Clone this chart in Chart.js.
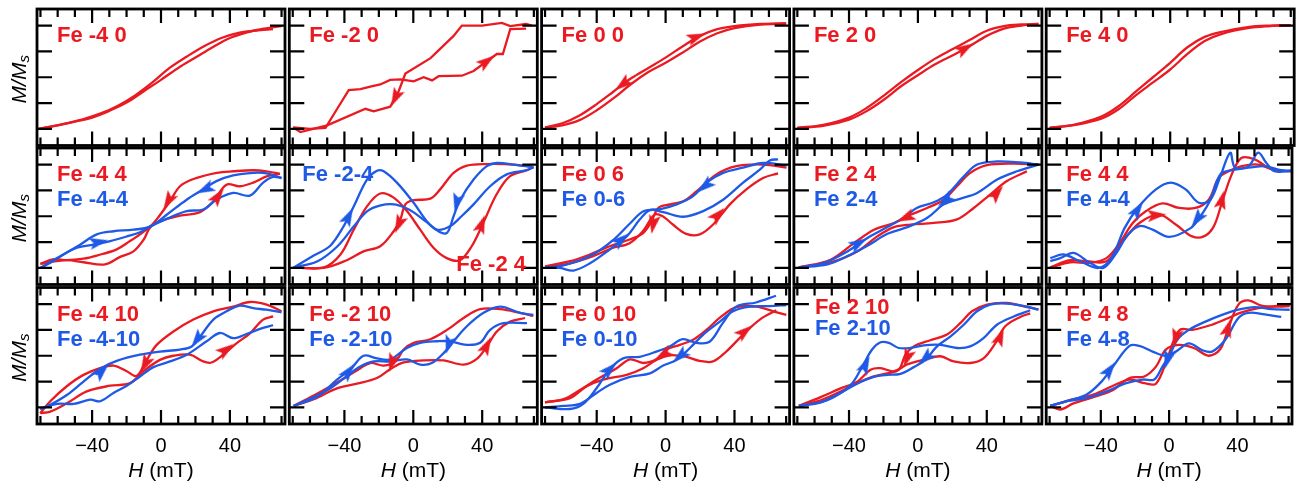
<!DOCTYPE html>
<html>
<head>
<meta charset="utf-8">
<script src="https://cdn.jsdelivr.net/npm/chart.js@4/dist/chart.umd.min.js"></script>
<style>
  html, body { margin: 0; padding: 0; background: #fff; }
  #wrap { position: relative; width: 1299px; height: 485px; overflow: hidden; }
  #wrap canvas { position: absolute; left: 0; top: 0; }
</style>
</head>
<body>
<div id="wrap"></div>
<script>
// ---- data: each branch is a list of [H (mT), M/Ms] ----
// row 1
const r_m40u = [[-71,-1.0],[-60,-0.93],[-50,-0.86],[-40,-0.78],[-30,-0.65],[-20,-0.49],[-10,-0.27],[0,-0.05],[10,0.18],[20,0.38],[30,0.58],[40,0.76],[50,0.87],[60,0.94],[70,0.99]];
const r_m40d = [[65,0.93],[55,0.9],[45,0.86],[35,0.76],[25,0.6],[15,0.4],[5,0.18],[-5,-0.1],[-15,-0.35],[-25,-0.55],[-35,-0.7],[-45,-0.81],[-55,-0.89],[-65,-0.96],[-71,-1.0]];
const r_m20u = [[-69.8,-0.97],[-60,-1.0],[-51,-0.98],[-44,-0.6],[-37.5,-0.25],[-30.7,-0.23],[-25,-0.18],[-19.2,-0.14],[-13.4,-0.05],[-7.5,-0.04],[0.2,-0.08],[6,0],[10.9,-0.06],[14.7,0.02],[28.2,0.03],[35,0.12],[42.7,0.31],[48.5,0.45],[52,0.45],[56.3,0.93],[65.5,0.94]];
const r_m20d = [[69,1.0],[65.5,1.03],[56.3,0.99],[51.4,1.05],[40,1.0],[28.2,1.0],[23.4,0.8],[10,0.37],[-4.6,0.07],[-8.5,-0.27],[-13.4,-0.57],[-23,-0.66],[-27.8,-0.61],[-50,-0.93],[-65.5,-1.06],[-69.8,-0.97]];
const r_00u = [[-70,-0.97],[-60,-0.93],[-50,-0.83],[-40,-0.64],[-30,-0.4],[-20,-0.13],[-10,0.1],[0,0.28],[10,0.48],[20,0.69],[30,0.85],[40,0.95],[55,1.02],[70,1.04]];
const r_00d = [[70,1.04],[55,1.03],[40,0.99],[30,0.93],[20,0.8],[10,0.6],[0,0.38],[-10,0.18],[-20,-0.02],[-30,-0.27],[-40,-0.52],[-50,-0.74],[-60,-0.89],[-70,-0.97]];
const r_20u = [[-70,-0.98],[-55,-0.94],[-40,-0.82],[-30,-0.66],[-20,-0.44],[-10,-0.18],[0,0.04],[10,0.25],[20,0.42],[30,0.6],[40,0.8],[50,0.94],[60,1.0],[70,1.03]];
const r_20d = [[70,1.03],[60,1.02],[50,0.99],[40,0.9],[30,0.72],[20,0.54],[10,0.36],[0,0.14],[-10,-0.1],[-20,-0.36],[-30,-0.6],[-40,-0.78],[-55,-0.92],[-70,-0.98]];
const r_40u = [[-70,-0.98],[-55,-0.92],[-40,-0.8],[-30,-0.62],[-20,-0.35],[-10,-0.1],[0,0.15],[10,0.45],[20,0.7],[30,0.84],[45,0.95],[58,0.99],[70,1.01]];
const r_40d = [[70,1.01],[58,1.0],[45,0.97],[30,0.88],[20,0.78],[10,0.58],[0,0.28],[-10,0.0],[-20,-0.28],[-30,-0.56],[-40,-0.76],[-55,-0.91],[-70,-0.98]];
// row 2
const r_m44u = [[-70,-0.92],[-55,-0.85],[-45,-0.89],[-32.5,-0.93],[-24,-0.79],[-16,-0.68],[-10,-0.45],[-6.4,-0.22],[-0.6,-0.1],[11,0.01],[22.6,0.08],[30.4,0.29],[38,0.61],[45.8,0.58],[53.5,0.65],[61.3,0.77],[69,0.82]];
const r_m44d = [[69,0.82],[61.3,0.87],[53.5,0.89],[42,0.87],[32.3,0.84],[18.8,0.72],[11,0.58],[5.2,0.29],[-2.5,-0.06],[-6.4,-0.2],[-12.2,-0.35],[-18,-0.48],[-25.7,-0.64],[-37.3,-0.76],[-45,-0.82],[-54.7,-0.85],[-62.4,-0.83],[-70,-0.92]];
const b_m44u = [[-70,-1.0],[-60.4,-0.81],[-48.8,-0.61],[-39.2,-0.55],[-29.5,-0.48],[-19.8,-0.39],[-12.2,-0.31],[-6.4,-0.2],[3.3,-0.05],[14.9,0.1],[24.5,0.13],[32.2,0.32],[41.9,0.45],[51.6,0.4],[59.3,0.65],[65,0.76],[70,0.74]];
const b_m44d = [[70,0.74],[61.3,0.83],[53.5,0.84],[41.9,0.79],[32.2,0.68],[24.5,0.52],[14.9,0.32],[3.3,0.03],[-6.4,-0.2],[-16,-0.26],[-27.5,-0.29],[-37.3,-0.35],[-47,-0.55],[-56.6,-0.74],[-64.3,-0.9],[-70,-1.0]];
const r_m24u = [[-69.4,-0.99],[-52,-0.99],[-42.3,-0.74],[-34.6,-0.26],[-26.9,0.19],[-19.2,0.44],[-11.4,0.36],[-3.7,0.1],[4,-0.26],[11.7,-0.61],[19.4,-0.81],[27.1,-0.85],[33.9,-0.58],[40.6,-0.13],[48.3,0.42],[56,0.77],[65.9,0.89],[69.7,0.95]];
const r_m24d = [[69.7,0.95],[58.1,1.0],[42.7,1.01],[31.1,0.98],[23.4,0.84],[15.6,0.52],[9.9,0.34],[0.2,0.31],[-4.6,0.23],[-7.5,-0.06],[-11.4,-0.29],[-19.2,-0.58],[-28.9,-0.68],[-38.6,-0.85],[-52,-1.0],[-69.4,-0.99]];
const b_m24u = [[-69.4,-0.99],[-57.8,-0.76],[-48.2,-0.57],[-40.4,-0.19],[-34.6,0.19],[-26.9,0.71],[-21.1,0.88],[-17.2,0.87],[-9.5,0.65],[0.2,0.26],[7.9,-0.1],[13.7,-0.26],[21,-0.2],[28,0.0],[35,0.23],[44.6,0.58],[54.3,0.81],[65.9,0.89],[69.7,0.95]];
const b_m24d = [[69.7,0.95],[58.1,1.0],[48.5,1.03],[42.7,0.97],[35,0.71],[27.3,0.32],[23.4,0.0],[19.6,-0.32],[15,-0.3],[8,-0.12],[0,0.08],[-5,0.17],[-11.2,0.23],[-19,0.21],[-26.7,0.1],[-34.4,-0.19],[-44,-0.58],[-55.6,-0.87],[-69.4,-0.99]];
const r_06u = [[-70,-0.99],[-55.5,-0.91],[-42.1,-0.77],[-30.5,-0.61],[-20.9,-0.52],[-13.2,-0.29],[-6.4,0.03],[-1.7,0.0],[4.2,-0.16],[12,-0.34],[19.8,-0.35],[27.6,-0.16],[37.3,0.23],[46.9,0.52],[56.6,0.74],[65.3,0.83]];
const r_06d = [[70.2,0.94],[56.6,1.0],[41.1,0.97],[29.5,0.81],[17.9,0.48],[10.2,0.29],[2.5,0.23],[-4.3,0.16],[-8.2,-0.1],[-13.2,-0.33],[-20.9,-0.45],[-32.5,-0.58],[-44,-0.74],[-55.5,-0.87],[-70,-0.97]];
const b_06u = [[-70,-0.99],[-61.3,-1.0],[-53.5,-1.05],[-43.9,-0.91],[-32.3,-0.64],[-22.6,-0.39],[-14.9,-0.06],[-9.1,0.12],[-1.4,0.08],[10.2,-0.01],[21.8,0.1],[33.4,0.32],[45,0.65],[54.7,0.9],[60.5,1.08],[65.3,1.1]];
const b_06d = [[70.2,0.98],[56.6,1.03],[45,0.94],[33.4,0.84],[23.7,0.65],[16,0.39],[6.4,0.23],[-2.9,0.14],[-12.6,0.1],[-20.4,-0.13],[-30.1,-0.45],[-43.9,-0.77],[-59.3,-0.95],[-70,-0.99]];
const r_24u = [[-69.1,-0.99],[-50.7,-0.89],[-35.2,-0.68],[-23.6,-0.39],[-13.9,-0.21],[-4.3,-0.16],[9.2,-0.13],[22.7,-0.06],[32.4,0.16],[42,0.42],[51.7,0.68],[63.3,0.87]];
const r_24d = [[70,1.0],[55.6,1.02],[40.1,0.99],[30.4,0.84],[22.7,0.58],[15,0.32],[5.3,0.16],[-4.3,0.03],[-13.9,-0.13],[-25.5,-0.26],[-37.1,-0.52],[-50.7,-0.84],[-69.1,-0.99]];
const b_24u = [[-69.1,-0.99],[-52.5,-0.93],[-40.9,-0.77],[-29.3,-0.57],[-17.7,-0.34],[-6.1,-0.21],[5.5,-0.03],[15.1,0.23],[24.8,0.34],[34.4,0.45],[46,0.71],[57.6,0.87],[70,1.0]];
const b_24d = [[70,1.0],[59.4,1.04],[45.9,1.06],[34.4,1.0],[26.7,0.77],[16.9,0.42],[9.2,0.27],[-0.7,0.16],[-8.2,-0.03],[-17.7,-0.21],[-29.3,-0.42],[-40.9,-0.68],[-54.3,-0.9],[-69.1,-0.99]];
const r_44u = [[-69.6,-0.99],[-58,-0.85],[-48.3,-0.87],[-36.7,-0.87],[-27,-0.48],[-17.4,-0.13],[-5.8,0.03],[3.9,-0.16],[13.5,-0.39],[20.3,-0.39],[26.1,-0.2],[30.9,0.26],[36.7,0.81],[42.5,1.13],[50.2,1.1],[58,0.94],[65.7,0.86]];
const r_44d = [[71.5,0.87],[61.8,0.89],[52.2,1.0],[42.5,0.97],[34.8,0.87],[29,0.74],[23.2,0.32],[15.5,0.16],[5.8,0.16],[-3.9,0.25],[-13.5,0.1],[-21.3,-0.13],[-29,-0.52],[-36.7,-0.81],[-46.4,-0.9],[-58,-0.89],[-69.6,-0.99]];
const b_44u = [[-69.6,-0.81],[-61.8,-0.74],[-52.2,-0.87],[-41.5,-1.0],[-33.8,-0.81],[-26.1,-0.23],[-18.4,0.16],[-7.7,0.52],[1,0.65],[9.7,0.52],[17.4,0.26],[24.2,0.32],[30,0.77],[35.8,1.23],[38.6,0.94],[46.4,0.94],[56.1,0.97],[65.7,0.89],[71.5,0.88]];
const b_44d = [[71.5,0.88],[61.8,0.87],[57,1.03],[52.2,1.23],[46.4,0.96],[36.7,0.89],[30,0.81],[24.2,0.32],[18.4,0.0],[12.6,-0.23],[0,-0.4],[-9.7,-0.26],[-17.4,-0.19],[-24.2,-0.36],[-30.9,-0.71],[-38.6,-1.0],[-46.4,-0.9],[-56,-0.71],[-63.8,-0.81],[-69.6,-0.87]];
// row 3
const r_m410u = [[-70.1,-1.11],[-64.3,-1.08],[-54.7,-0.92],[-43.1,-0.69],[-29.6,-0.58],[-18,-0.53],[-10.2,-0.3],[-0.6,-0.08],[7.1,0],[16.8,0.02],[24.5,-0.11],[29.3,-0.13],[36.1,0.02],[43.8,0.24],[51.5,0.43],[59.3,0.7],[65.1,0.76]];
const r_m410d = [[70,0.86],[61.3,0.99],[51.6,1.04],[42,0.95],[30.4,0.86],[18.8,0.7],[7.2,0.47],[-2.5,0.21],[-8.3,-0.08],[-14.1,-0.39],[-19.9,-0.3],[-27.6,-0.19],[-35.4,-0.24],[-45,-0.37],[-54.7,-0.59],[-64.3,-0.88],[-70.1,-1.11]];
const b_m410u = [[-70.1,-1.03],[-60.4,-0.93],[-50.7,-0.93],[-41.1,-0.85],[-35.3,-0.88],[-27.6,-0.72],[-19.9,-0.58],[-12.2,-0.4],[-4.4,-0.22],[5.2,-0.11],[14.9,0.02],[26.5,0.28],[34.2,0.44],[41.9,0.34],[49.6,0.42],[59.3,0.54],[65.1,0.59]];
const b_m410d = [[70,0.84],[61.3,0.89],[53.6,0.92],[45.8,0.97],[38.1,0.86],[30.4,0.7],[22.7,0.37],[17.8,0.18],[11,0.12],[-0.6,0.08],[-12.2,0.02],[-25.7,-0.1],[-35.3,-0.25],[-45,-0.5],[-54.7,-0.76],[-64.3,-0.95],[-70.1,-1.03]];
const r_m210u = [[-69.4,-0.97],[-57.8,-0.84],[-44.3,-0.63],[-32.7,-0.54],[-21.1,-0.43],[-13.4,-0.26],[-5.6,-0.13],[6,-0.09],[17.6,-0.09],[29.2,-0.17],[36.9,-0.06],[42.7,0.18],[48.5,0.47],[56.2,0.66],[64.9,0.73]];
const r_m210d = [[69.7,0.77],[62,0.83],[50.4,0.9],[38.8,0.9],[29.2,0.73],[19.6,0.5],[9.9,0.32],[0.2,0.25],[-5.6,0.12],[-10.4,-0.11],[-17.2,-0.19],[-24.9,-0.14],[-30.7,-0.24],[-38.4,-0.4],[-48.1,-0.59],[-57.8,-0.77],[-69.4,-0.97]];
const b_m210u = [[-69.4,-0.97],[-55.6,-0.79],[-44.3,-0.46],[-36.6,-0.27],[-28.9,0.0],[-21.1,-0.05],[-13.4,-0.07],[-3.7,0.15],[4,0.25],[13.7,0.28],[21.3,0.28],[31,0.21],[38.8,0.25],[44.6,0.5],[52.3,0.63],[66,0.63]];
const b_m210d = [[69.7,0.79],[62,0.83],[50.4,0.95],[40.8,0.83],[31.1,0.57],[23.4,0.28],[17.6,0.05],[10.8,-0.14],[4,-0.17],[-3.7,-0.07],[-13.4,-0.11],[-23.1,-0.11],[-30.8,-0.21],[-38.4,-0.39],[-48.1,-0.63],[-57.8,-0.8],[-69.4,-0.97]];
const r_010u = [[-70,-0.9],[-55.5,-0.82],[-45.8,-0.59],[-36.2,-0.46],[-22.6,-0.37],[-13,-0.24],[-5.3,-0.08],[2.4,0.01],[12,-0.02],[19.8,-0.1],[27.5,-0.11],[35.2,0.08],[45,0.41],[54.7,0.7],[64.3,0.88]];
const r_010d = [[70.1,0.79],[62.4,0.86],[52.7,0.95],[41.1,0.94],[32.4,0.76],[23.7,0.5],[16,0.31],[8.3,0.21],[0.5,0.12],[-5.3,-0.07],[-13,-0.14],[-20.7,-0.07],[-28.4,-0.24],[-40,-0.46],[-49.7,-0.66],[-59.3,-0.84],[-70,-0.9]];
const b_010u = [[-70,-1.0],[-55.5,-1.03],[-47.8,-0.93],[-40.1,-0.63],[-32.4,-0.26],[-24.7,-0.05],[-15.1,-0.02],[-5.4,0.08],[2.3,0.18],[10,0.32],[17.8,0.25],[25.5,0.27],[33.2,0.63],[41,0.95],[52.5,1.03],[64.1,1.16]];
const b_010d = [[70.1,0.98],[60.5,0.96],[48.9,0.95],[39.2,0.86],[31.5,0.66],[21.9,0.41],[14.1,0.15],[6.4,-0.08],[-1.4,-0.19],[-9.1,-0.34],[-20.7,-0.41],[-32.4,-0.56],[-40.1,-0.72],[-49.7,-0.93],[-59.3,-0.97],[-70,-1.0]];
const r_210u = [[-69.1,-0.97],[-56.5,-0.8],[-44.9,-0.63],[-35.2,-0.5],[-27.5,-0.27],[-21.7,-0.24],[-14,-0.3],[-6.3,-0.17],[3.4,-0.08],[13,-0.01],[20.8,-0.11],[30.4,-0.14],[38.1,-0.05],[45.1,0.25],[50.7,0.57],[59.4,0.75],[65.2,0.82]];
const r_210d = [[70,0.9],[63.3,0.94],[51.7,1.02],[40.1,0.99],[31.4,0.86],[24.6,0.63],[16.9,0.41],[7.2,0.3],[-2.4,0.18],[-7.2,0.02],[-11.1,-0.27],[-17.9,-0.34],[-25.6,-0.4],[-35.3,-0.53],[-44.9,-0.69],[-56.5,-0.86],[-69.1,-0.97]];
const b_210u = [[-69.1,-0.97],[-54.3,-0.88],[-44.9,-0.72],[-38.1,-0.53],[-32.3,-0.21],[-26.6,0.12],[-21.7,0.26],[-16.9,0.25],[-11.1,0.15],[-4.3,0.15],[3.4,0.2],[13,0.21],[22.7,0.15],[30.4,0.18],[38.1,0.34],[45.9,0.6],[55.6,0.76],[65.2,0.88]];
const b_210d = [[70,0.89],[63.3,0.95],[51.7,1.01],[42,0.99],[34.3,0.86],[26.6,0.6],[18.8,0.37],[11.1,0.18],[4.3,-0.08],[-2.4,-0.22],[-10.1,-0.35],[-17.9,-0.37],[-25.6,-0.41],[-35.3,-0.54],[-44.9,-0.72],[-56.5,-0.9],[-69.1,-0.97]];
const r_48u = [[-69.6,-0.97],[-63.8,-1.04],[-56,-0.92],[-44.4,-0.8],[-32.8,-0.66],[-23.2,-0.43],[-14.5,-0.4],[-7.7,-0.21],[-1.9,0.12],[5.8,0.21],[14.5,0.15],[23.2,0.0],[30,0.13],[34.8,0.54],[40.6,0.99],[46.4,1.07],[54.1,0.97],[63.8,0.95],[70.6,0.96]];
const r_48d = [[70.6,0.98],[61.8,0.96],[52.2,0.92],[42.5,0.84],[34.8,0.73],[25.1,0.6],[13.5,0.5],[6.8,0.51],[2.9,0.31],[-1,-0.05],[-7.7,-0.54],[-14.5,-0.53],[-23.2,-0.46],[-32.8,-0.58],[-44.4,-0.75],[-56,-0.84],[-69.6,-0.97]];
const b_48u = [[-69.6,-0.97],[-58,-0.86],[-48.3,-0.75],[-39.6,-0.5],[-32.9,-0.21],[-23.2,0.19],[-17.4,0.19],[-9.7,0.08],[-1.9,0.0],[3.9,0.08],[11.6,0.24],[19.3,0.11],[25.1,0.08],[32.9,0.31],[40.6,0.73],[46.4,0.83],[56,0.8],[65.7,0.75]];
const b_48d = [[70.6,0.89],[60,0.9],[50.2,0.94],[40.6,0.89],[31,0.79],[21.3,0.66],[11.6,0.5],[4.8,0.31],[0.9,0.05],[-3.9,-0.21],[-8.7,-0.46],[-15.5,-0.46],[-25.1,-0.53],[-36.7,-0.69],[-48.3,-0.82],[-59.9,-0.88],[-69.6,-0.97]];

// arrow heads: [H, M/Ms, H toward, M/Ms toward]
const arr_m20_r = [[42.7,0.31,48.5,0.45],[-10.5,-0.4,-13,-0.57]];
const arr_00_r = [[18,0.78,24,0.86],[-25,-0.14,-30,-0.27]];
const arr_20_r = [[27.5,0.56,33,0.67]];
const arr_m44_r = [[4.2,0.29,0,0.05],[33.2,0.39,38,0.61]];
const arr_m44_b = [[25.5,0.52,18,0.4],[-36,-0.5,-30,-0.46]];
const arr_m24_r = [[-8.5,-0.16,-11,-0.35],[39.7,-0.15,43,0.15]];
const arr_m24_b = [[-37.5,0.0,-34.6,0.19],[25.3,0.26,23.4,0.0]];
const arr_06_r = [[-7.2,-0.16,-8.2,-0.35],[30.5,0.03,34,0.15]];
const arr_06_b = [[22.8,0.58,16,0.39],[-25.6,-0.45,-20,-0.3]];
const arr_24_r = [[-7.2,-0.03,-14,-0.13],[45.9,0.45,51.7,0.68]];
const arr_24_b = [[16,0.3,10,0.15],[-34.3,-0.52,-29,-0.42]];
const arr_44_r = [[30.9,0.32,33,0.6],[-7,0.02,-3,0.03]];
const arr_44_b = [[-18.4,0.13,-14,0.35],[16.4,-0.06,12.6,-0.23]];
const arr_m410_r = [[-9.3,-0.17,-12,-0.35],[37.9,0.12,42,0.22]];
const arr_m410_b = [[20.9,0.31,18,0.18],[-34.4,-0.3,-30,-0.15]];
const arr_m210_r = [[-12.4,-0.14,-14,-0.3],[42.7,0.2,45,0.35]];
const arr_m210_b = [[-37.5,-0.3,-34,-0.15],[20.5,0.21,19,0.05]];
const arr_010_r = [[46,0.47,50,0.58],[-1.4,0.02,-6,-0.07]];
const arr_010_b = [[-32.4,-0.26,-28,-0.12],[8.3,-0.01,4,-0.13]];
const arr_210_r = [[47.8,0.37,50,0.55],[-6.3,-0.05,-8,-0.2]];
const arr_210_b = [[-30.4,-0.17,-28,0.0],[4.3,-0.05,1,-0.15]];
const arr_48_r = [[3.9,0.34,2,0.1],[34.5,0.54,36.5,0.75]];
const arr_48_b = [[-34.8,-0.27,-31,-0.1],[-1,-0.08,-2.5,-0.25]];

const xTicks = [-70,-60,-50,-40,-30,-20,-10,0,10,20,30,40,50,60,70];
const xMajor = [-40, 0, 40];
const yTicks = [-1, -0.5, 0, 0.5, 1];

// ---- layout ----
const W = 1299, H = 485;
const PW = 248, PH = 136.5;
const colLeft = c => 37 + 252.3 * c;
const rowTop = [9, 148, 287.5];
const RED = '#ea1a22', BLUE = '#1e5ae6';
const FONT = '"Liberation Sans", Arial, Helvetica, sans-serif';

const panels = [
  { row:0, col:0, red:[r_m40u, r_m40d], labels:[['Fe -4 0', RED]] },
  { row:0, col:1, red:[r_m20u, r_m20d], ra:arr_m20_r, labels:[['Fe -2 0', RED]], tension:0 },
  { row:0, col:2, red:[r_00u, r_00d], ra:arr_00_r, labels:[['Fe 0 0', RED]] },
  { row:0, col:3, red:[r_20u, r_20d], ra:arr_20_r, labels:[['Fe 2 0', RED]] },
  { row:0, col:4, red:[r_40u, r_40d], labels:[['Fe 4 0', RED]] },
  { row:1, col:0, red:[r_m44u, r_m44d], blue:[b_m44u, b_m44d], ra:arr_m44_r, ba:arr_m44_b, labels:[['Fe -4 4', RED], ['Fe -4-4', BLUE]] },
  { row:1, col:1, red:[r_m24u, r_m24d], blue:[b_m24u, b_m24d], ra:arr_m24_r, ba:arr_m24_b, labels:[['Fe -2-4', BLUE, 13, 33], ['Fe -2 4', RED, 167, 123]] },
  { row:1, col:2, red:[r_06u, r_06d], blue:[b_06u, b_06d], ra:arr_06_r, ba:arr_06_b, labels:[['Fe 0 6', RED], ['Fe 0-6', BLUE]] },
  { row:1, col:3, red:[r_24u, r_24d], blue:[b_24u, b_24d], ra:arr_24_r, ba:arr_24_b, labels:[['Fe 2 4', RED], ['Fe 2-4', BLUE]] },
  { row:1, col:4, red:[r_44u, r_44d], blue:[b_44u, b_44d], ra:arr_44_r, ba:arr_44_b, labels:[['Fe 4 4', RED], ['Fe 4-4', BLUE]] },
  { row:2, col:0, red:[r_m410u, r_m410d], blue:[b_m410u, b_m410d], ra:arr_m410_r, ba:arr_m410_b, labels:[['Fe -4 10', RED], ['Fe -4-10', BLUE]] },
  { row:2, col:1, red:[r_m210u, r_m210d], blue:[b_m210u, b_m210d], ra:arr_m210_r, ba:arr_m210_b, labels:[['Fe -2 10', RED], ['Fe -2-10', BLUE]] },
  { row:2, col:2, red:[r_010u, r_010d], blue:[b_010u, b_010d], ra:arr_010_r, ba:arr_010_b, labels:[['Fe 0 10', RED], ['Fe 0-10', BLUE]] },
  { row:2, col:3, red:[r_210u, r_210d], blue:[b_210u, b_210d], ra:arr_210_r, ba:arr_210_b, labels:[['Fe 2 10', RED, 21, 26], ['Fe 2-10', BLUE, 21, 47]] },
  { row:2, col:4, red:[r_48u, r_48d], blue:[b_48u, b_48d], ra:arr_48_r, ba:arr_48_b, labels:[['Fe 4 8', RED], ['Fe 4-8', BLUE]] }
];

function head(color) {
  const c = document.createElement('canvas');
  c.width = 12; c.height = 19;
  const g = c.getContext('2d');
  g.fillStyle = color;
  g.beginPath();
  g.moveTo(6, 0); g.lineTo(12, 19); g.lineTo(6, 15); g.lineTo(0, 19);
  g.closePath(); g.fill();
  return c;
}
const HEAD_R = head(RED), HEAD_B = head(BLUE);

function lineSet(arr, color, tension) {
  return {
    data: arr.map(p => ({ x: p[0], y: p[1] })),
    showLine: true, borderColor: color, borderWidth: 2.3,
    pointRadius: 0, tension: tension, fill: false
  };
}
function arrowSet(arr, img) {
  return {
    data: arr.map(a => ({ x: a[0], y: a[1], tx: a[2], ty: a[3] })),
    showLine: false, pointStyle: img, pointRadius: 6,
    pointRotation: ctx => {
      const a = ctx.raw, xs = ctx.chart.scales.x, ys = ctx.chart.scales.y;
      const dx = xs.getPixelForValue(a.tx) - xs.getPixelForValue(a.x);
      const dy = ys.getPixelForValue(a.ty) - ys.getPixelForValue(a.y);
      return Math.atan2(dx, -dy) * 180 / Math.PI;
    }
  };
}

function panelPlugin(p) {
  return {
    id: 'panel',
    afterDatasetsDraw(chart) {
      const g = chart.ctx, a = chart.chartArea;
      const xs = chart.scales.x, ys = chart.scales.y;
      g.save();
      g.strokeStyle = '#000';
      g.lineWidth = 2.2;
      g.beginPath();
      xTicks.forEach(v => {
        const px = xs.getPixelForValue(v);
        const len = xMajor.includes(v) ? 14 : 8;
        g.moveTo(px, a.top); g.lineTo(px, a.top + len);
        g.moveTo(px, a.bottom); g.lineTo(px, a.bottom - len);
      });
      yTicks.forEach(v => {
        const py = ys.getPixelForValue(v);
        g.moveTo(a.left, py); g.lineTo(a.left + 15, py);
        g.moveTo(a.right, py); g.lineTo(a.right - 15, py);
      });
      g.stroke();
      g.lineWidth = 2.8;
      g.strokeRect(a.left, a.top, a.right - a.left, a.bottom - a.top);

      // panel labels
      g.font = 'bold 22px ' + FONT;
      g.textBaseline = 'alphabetic';
      g.textAlign = 'left';
      p.labels.forEach((l, i) => {
        g.fillStyle = l[1];
        const dx = l[2] !== undefined ? l[2] : 20;
        const dy = l[3] !== undefined ? l[3] : (i === 0 ? 33 : 58);
        g.fillText(l[0], a.left + dx, a.top + dy);
      });

      g.fillStyle = '#000';
      // y axis title on the first column
      if (p.col === 0) {
        g.save();
        g.translate(20, (a.top + a.bottom) / 2 + 2);
        g.rotate(-Math.PI / 2);
        g.font = 'italic 21px ' + FONT;
        const w1 = g.measureText('M/M').width;
        g.font = 'italic 15px ' + FONT;
        const w2 = g.measureText('s').width;
        const x0 = -(w1 + w2) / 2;
        g.textBaseline = 'middle';
        g.font = 'italic 21px ' + FONT;
        g.fillText('M/M', x0, 0);
        g.font = 'italic 15px ' + FONT;
        g.fillText('s', x0 + w1, 5);
        g.restore();
      }
      // x tick labels and title on the bottom row
      if (p.row === 2) {
        g.font = '20px ' + FONT;
        g.textAlign = 'center';
        xMajor.forEach(v => {
          const txt = v < 0 ? '\u2212' + Math.abs(v) : String(v);
          g.fillText(txt, xs.getPixelForValue(v), 452);
        });
        const cx = xs.getPixelForValue(0);
        g.font = 'italic 21px ' + FONT;
        const wH = g.measureText('H').width;
        g.font = '21px ' + FONT;
        const wR = g.measureText(' (mT)').width;
        const x0 = cx - (wH + wR) / 2;
        g.textAlign = 'left';
        g.font = 'italic 21px ' + FONT;
        g.fillText('H', x0, 477);
        g.font = '21px ' + FONT;
        g.fillText(' (mT)', x0 + wH, 477);
      }
      g.restore();
    }
  };
}

const wrap = document.getElementById('wrap');
panels.forEach(p => {
  const cv = document.createElement('canvas');
  cv.width = W; cv.height = H;
  wrap.appendChild(cv);
  const L = colLeft(p.col), T = rowTop[p.row];
  const t = p.tension !== undefined ? p.tension : 0.35;
  const datasets = [];
  if (p.ra) datasets.push(arrowSet(p.ra, HEAD_R));
  if (p.ba) datasets.push(arrowSet(p.ba, HEAD_B));
  if (p.blue) p.blue.forEach(b => datasets.push(lineSet(b, BLUE, t)));
  p.red.forEach(r => datasets.push(lineSet(r, RED, t)));
  new Chart(cv, {
    type: 'scatter',
    data: { datasets },
    options: {
      responsive: false,
      animation: false,
      events: [],
      layout: { padding: { left: L, top: T, right: W - L - PW, bottom: H - T - PH } },
      scales: {
        x: { type: 'linear', min: -72, max: 72, display: false },
        y: { type: 'linear', min: -1.32, max: 1.32, display: false }
      },
      plugins: { legend: { display: false }, tooltip: { enabled: false } }
    },
    plugins: [panelPlugin(p)]
  });
});
</script>
</body>
</html>
